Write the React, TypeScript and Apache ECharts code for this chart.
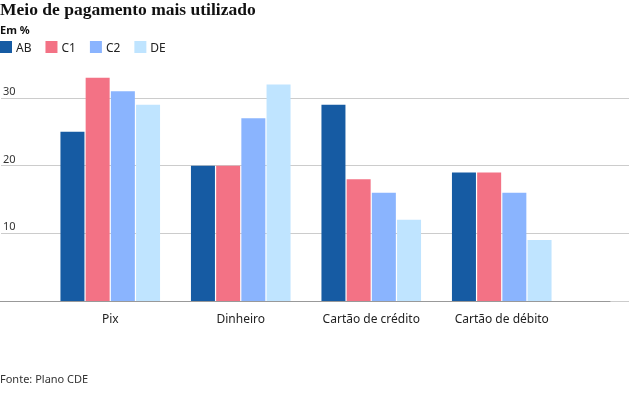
import React, { useEffect, useRef } from "react";
import * as echarts from "echarts";

const categories = ["Pix", "Dinheiro", "Cartão de crédito", "Cartão de débito"];
const seriesNames = ["AB", "C1", "C2", "DE"];
const valuesAB = [25, 20, 29, 19];
const valuesC1 = [33, 20, 18, 19];
const valuesC2 = [31, 27, 16, 16];
const valuesDE = [29, 32, 12, 9];
const colors = ["#165ba3", "#f37285", "#8ab4fe", "#bfe4ff"];
const yTicks = [0, 10, 20, 30];

const titleText = "Meio de pagamento mais utilizado";
const unitText = "Em %";
const sourceText = "Fonte: Plano CDE";

export default function App() {
  const ref = useRef<HTMLDivElement>(null);
  useEffect(() => {
    if (!ref.current) return;
    const chart = echarts.init(ref.current, undefined, { renderer: "svg" });
    const font = "Noto Sans";
    const allValues = [valuesAB, valuesC1, valuesC2, valuesDE];
    chart.setOption({
      animation: false,
      textStyle: { fontFamily: font },
      title: [
        {
          text: titleText,
          left: 0,
          top: 0,
          padding: 0,
          textStyle: { fontFamily: "Liberation Serif", fontWeight: "bold", fontSize: 17.5, color: "#111" },
        },
        {
          text: unitText,
          left: 0,
          top: 24,
          padding: 0,
          textStyle: { fontFamily: font, fontWeight: "bold", fontSize: 11, color: "#111" },
        },
        {
          text: sourceText,
          left: 0,
          top: 373,
          padding: 0,
          textStyle: { fontFamily: font, fontWeight: "normal", fontSize: 11, color: "#333" },
        },
      ],
      legend: {
        left: 0,
        top: 41,
        padding: 0,
        itemWidth: 12,
        itemHeight: 12,
        itemGap: 14,
        icon: "rect",
        textStyle: { fontFamily: font, fontSize: 12, color: "#222", padding: [4, 0, 0, -1] },
        data: seriesNames,
      },
      grid: [
        { left: 0, right: 0, top: 98, bottom: 97 },
        { left: 0, right: 19, top: 98, bottom: 97 },
        { left: 45, right: 62, top: 98, bottom: 97 },
      ],
      xAxis: [
        { type: "value", gridIndex: 0, show: false },
        {
          type: "category",
          gridIndex: 1,
          data: categories,
          axisLine: { show: true, lineStyle: { color: "#999", width: 1 } },
          axisTick: { show: false },
          axisLabel: { show: false },
        },
        {
          type: "category",
          gridIndex: 2,
          data: categories,
          axisLine: { show: false },
          axisTick: { show: false },
          axisLabel: { fontFamily: font, fontSize: 12, color: "#222", margin: 11 },
        },
      ],
      yAxis: [
        {
          type: "value",
          gridIndex: 0,
          min: yTicks[0],
          max: yTicks[yTicks.length - 1],
          interval: 10,
          axisLine: { show: false },
          axisTick: { show: false },
          splitLine: { show: true, lineStyle: { color: "#cccccc", width: 1 } },
          axisLabel: {
            inside: true,
            showMinLabel: false,
            verticalAlign: "bottom",
            margin: 2,
            padding: [0, 0, 2, 0],
            fontFamily: font,
            fontSize: 11,
            color: "#333",
          },
        },
        { type: "value", gridIndex: 1, min: 0, max: 30, show: false },
        { type: "value", gridIndex: 2, min: 0, max: 30, show: false },
      ],
      series: seriesNames.map((name, i) => ({
        name,
        type: "bar",
        xAxisIndex: 2,
        yAxisIndex: 2,
        data: allValues[i],
        barWidth: 24,
        barGap: "5%",
        clip: false,
        itemStyle: { color: colors[i] },
        z: 3,
      })),
    });
    return () => chart.dispose();
  }, []);
  return <div ref={ref} style={{ position: "fixed", left: 0, top: 0, width: 629, height: 398 }} />;
}
